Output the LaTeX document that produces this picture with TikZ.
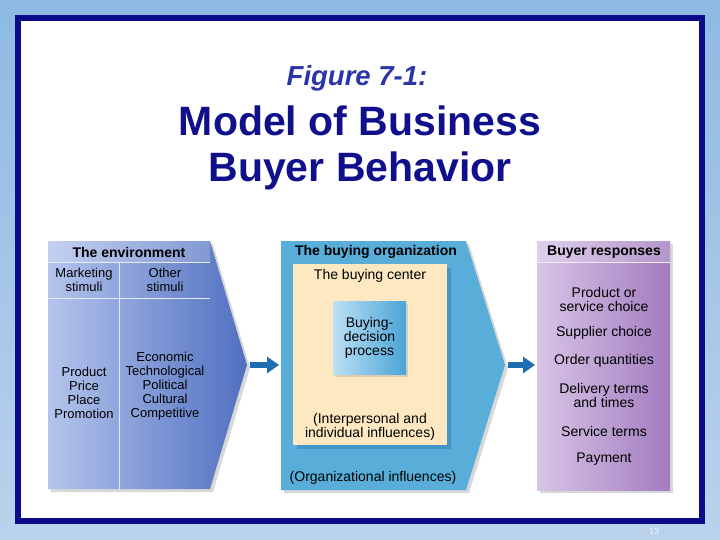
\documentclass[tikz,border=0pt]{standalone}
\usepackage{fontspec}
\setmainfont{Liberation Sans}
\usetikzlibrary{arrows.meta,shadows,positioning}
\definecolor{navy}{HTML}{0B0B8A}
\definecolor{titleblue}{HTML}{10108C}
\definecolor{figblue}{HTML}{2B35A8}
\definecolor{envlight}{HTML}{B4C4EC}
\definecolor{envdark}{HTML}{5070C0}
\definecolor{orgblue}{HTML}{58AED8}
\definecolor{cream}{HTML}{FDE8C2}
\definecolor{declight}{HTML}{BCE0F4}
\definecolor{decdark}{HTML}{4AA4D6}
\definecolor{purplelight}{HTML}{D8C4E6}
\definecolor{purpledark}{HTML}{A27CC0}
\definecolor{arrowblue}{HTML}{1E6CB2}
\definecolor{bgtop}{HTML}{8EBAE2}
\definecolor{bgbottom}{HTML}{BAD2EC}

\begin{document}
\begin{tikzpicture}[x=1pt,y=-1pt,
  panel/.style={drop shadow={shadow xshift=3pt,shadow yshift=-3pt,opacity=.3}},
  head/.style={font=\fontsize{14}{15}\selectfont\bfseries},
  txt/.style={align=center,font=\fontsize{14}{14}\selectfont},
  envtxt/.style={align=center,font=\fontsize{13}{14}\selectfont},
  flow/.style={line width=6pt,draw=arrowblue,shorten <=3pt,shorten >=2pt,
    -{Triangle[length=12pt,width=16pt]}}]
\useasboundingbox (0,0) rectangle (720,540);
% slide background and frame
\shade[top color=bgtop,bottom color=bgbottom] (0,0) rectangle (720,540);
\draw[navy,line width=6pt,fill=white] (18,18) rectangle (702,521);
\node[text=white!75!bgbottom,font=\fontsize{9}{10}\selectfont] (page) at (654,531) {13};

% title
\node[anchor=base,text=figblue,font=\fontsize{27.5}{30}\selectfont\bfseries\itshape] (fig) at (357,86) {Figure 7-1:};
\node[anchor=base,text=titleblue,font=\fontsize{41}{44}\selectfont\bfseries] (title1) at (360,136) {Model of Business};
\node[anchor=base,text=titleblue,font=\fontsize{41}{44}\selectfont\bfseries] (title2) at (360,182) {Buyer Behavior};

% the environment
\path[panel,left color=envlight,right color=envdark]
  (48,241) -- (210,241) -- (247,365) -- (210,489) -- (48,489) -- cycle;
\fill[white,opacity=.2] (48,241) rectangle (210,262);
\draw[white!85!envdark,line width=.8pt] (48,262) -- (210,262) (48,298) -- (210,298)
  (119,262) -- (119,489);
\coordinate (envtip) at (247,365);
\node[head] (envhead) at (129,252) {The environment};
\node[envtxt] (mkt) at (84,280) {Marketing\\stimuli};
\node[envtxt] (oth) at (165,280) {Other\\stimuli};
\node[envtxt] (mix) at (84,393) {Product\\Price\\Place\\Promotion};
\node[envtxt] (forces) at (165,386) {Economic\\Technological\\Political\\Cultural\\Competitive};

% the buying organization
\path[panel,fill=orgblue]
  (281,241) -- (466,241) -- (505,365) -- (466,490) -- (281,490) -- cycle;
\coordinate (orgin) at (281,365);
\coordinate (orgtip) at (505,365);
\node[head] (orghead) at (376,252) {The buying organization};
\node[fill=cream,minimum width=154pt,minimum height=181pt,inner sep=0pt,
  drop shadow={shadow xshift=4pt,shadow yshift=-4pt,opacity=.35,fill=arrowblue}]
  (center) at (370,354.5) {};
\node[txt] (centerlbl) at (370,275.5) {The buying center};
\node[txt,minimum width=73pt,minimum height=73pt,inner sep=0pt,
  left color=declight,right color=decdark,
  drop shadow={shadow xshift=2pt,shadow yshift=-2pt,opacity=.25}]
  (decide) at (369.5,338) {Buying-\\decision\\process};
\node[txt] (inter) at (370,427) {(Interpersonal and\\individual influences)};
\node[txt] (orginfl) at (373,477.5) {(Organizational influences)};

% buyer responses
\path[panel,left color=purplelight,right color=purpledark] (537,241) rectangle (670,490);
\fill[white,opacity=.2] (537,241) rectangle (670,262);
\draw[white!85!purpledark,line width=.8pt] (537,262) -- (670,262);
\coordinate (respin) at (537,365);
\node[head] (resphead) at (604,252) {Buyer responses};
\node[txt] (r1) at (604,299.5) {Product or\\service choice};
\node[txt] (r2) at (604,333) {Supplier choice};
\node[txt] (r3) at (604,361) {Order quantities};
\node[txt] (r4) at (604,395.5) {Delivery terms\\and times};
\node[txt] (r5) at (604,431) {Service terms};
\node[txt] (r6) at (604,459) {Payment};

% flows
\draw[flow] (envtip) -- (orgin);
\draw[flow] (orgtip) -- (respin);
\end{tikzpicture}
\end{document}
